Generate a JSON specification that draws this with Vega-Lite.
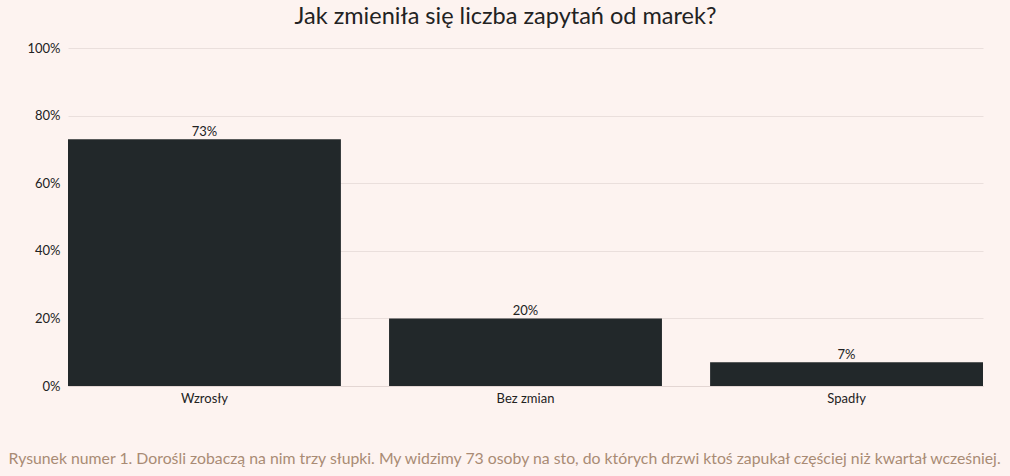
{
  "$schema": "https://vega.github.io/schema/vega-lite/v6.json",
  "width": 915,
  "height": 338,
  "autosize": {"type": "none"},
  "padding": {"left": 68, "top": 48, "right": 27, "bottom": 90},
  "background": "#fdf3f0",
  "config": {
    "font": "Lato",
    "view": {"stroke": null},
    "axis": {"labelColor": "#222", "labelFont": "Lato", "labelFontSize": 13}
  },
  "title": {
    "text": "Jak zmieniła się liczba zapytań od marek?",
    "font": "Lato",
    "fontSize": 23.5,
    "fontWeight": "normal",
    "color": "#222",
    "anchor": "middle",
    "dx": -20,
    "offset": 14
  },
  "data": {
    "values": [
      {"kategoria": "Wzrosły", "udzial": 0.73},
      {"kategoria": "Bez zmian", "udzial": 0.20},
      {"kategoria": "Spadły", "udzial": 0.07}
    ]
  },
  "encoding": {
    "x": {
      "field": "kategoria",
      "type": "nominal",
      "sort": null,
      "scale": {"paddingInner": 0.15, "paddingOuter": 0},
      "axis": {
        "labelAngle": 0,
        "labelPadding": 6,
        "ticks": false,
        "domainColor": "#e3d6d3",
        "title": "Rysunek numer 1. Dorośli zobaczą na nim trzy słupki. My widzimy 73 osoby na sto, do których drzwi ktoś zapukał częściej niż kwartał wcześniej.",
        "titleFont": "Lato",
        "titleFontSize": 15.8,
        "titleFontWeight": "normal",
        "titleColor": "#a98b74",
        "titleAnchor": "start",
        "titleAlign": "left",
        "titleLimit": 2000,
        "titleX": -60,
        "titleY": 65
      }
    },
    "y": {
      "field": "udzial",
      "type": "quantitative",
      "scale": {"domain": [0, 1]},
      "axis": {
        "values": [0, 0.2, 0.4, 0.6, 0.8, 1],
        "format": ".0%",
        "title": null,
        "ticks": false,
        "domain": false,
        "labelPadding": 8,
        "gridColor": "#eadfdc"
      }
    }
  },
  "layer": [
    {"mark": {"type": "bar", "color": "#22282a"}},
    {
      "mark": {"type": "text", "dy": -7, "fontSize": 13, "color": "#222", "font": "Lato"},
      "encoding": {"text": {"field": "udzial", "type": "quantitative", "format": ".0%"}}
    }
  ]
}
